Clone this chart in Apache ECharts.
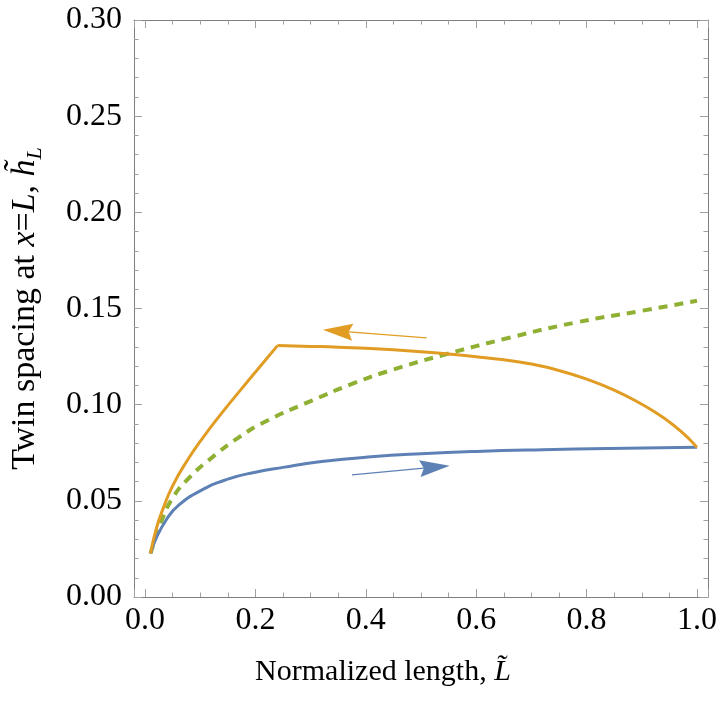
<!DOCTYPE html>
<html>
<head>
<meta charset="utf-8">
<script src="https://cdn.jsdelivr.net/npm/echarts@6/dist/echarts.min.js"></script>
<style>
  html, body { margin: 0; padding: 0; background: #fff; }
  #chart { width: 722px; height: 706px; }
</style>
</head>
<body>
<div id="chart"></div>
<script>
// twin spacing vs normalized length
var blueX = [0.01, 0.02, 0.04, 0.06, 0.1, 0.15, 0.2, 0.25, 0.32, 0.41, 0.5, 0.6, 0.72, 0.84, 1.0];
var blueY = [0.0226, 0.0305, 0.0408, 0.0475, 0.0552, 0.0613, 0.0649, 0.0674, 0.0704, 0.0729, 0.0745, 0.0757, 0.0766, 0.0772, 0.0778];

// orange, going up (loading) to the corner at L=0.24
var orangeUpX = [0.01, 0.02, 0.033, 0.05, 0.075, 0.105, 0.14, 0.177, 0.213, 0.24];
var orangeUpY = [0.0226, 0.0351, 0.0462, 0.0578, 0.0703, 0.0829, 0.0960, 0.1090, 0.1214, 0.1307];
// orange, coming back from the corner to L=1
var orangeDownX = [0.24, 0.3, 0.35, 0.4, 0.45, 0.5, 0.55, 0.6, 0.65, 0.7, 0.75, 0.8, 0.85, 0.9, 0.93, 0.95, 0.97, 0.985, 1.0];
var orangeDownY = [0.1307, 0.1303, 0.1299, 0.1293, 0.1285, 0.1275, 0.1263, 0.1249, 0.1233, 0.1211, 0.1178, 0.1133, 0.1076, 0.1002, 0.0950, 0.0910, 0.0864, 0.0824, 0.0778];

var greenX = [0.01, 0.03, 0.05, 0.08, 0.12, 0.17, 0.22, 0.3, 0.375, 0.45, 0.54, 0.66, 0.78, 0.9, 1.0];
var greenY = [0.0226, 0.0396, 0.0515, 0.0620, 0.0722, 0.0830, 0.0915, 0.1018, 0.1108, 0.1183, 0.1258, 0.1348, 0.1427, 0.1488, 0.1540];

// arrows: [x from, y from, x to, y to]
var orangeArrow = [0.510, 0.1347, 0.322, 0.1389];
var blueArrow = [0.375, 0.0635, 0.552, 0.0682];

var yTicks = ['0.00', '0.05', '0.10', '0.15', '0.20', '0.25', '0.30'];

var BLUE = '#5E81B5', ORANGE = '#E19C24', GREEN = '#8FB032';
var FONT = 'Liberation Serif';

function pairs(xs, ys) {
  return xs.map(function (x, i) { return [x, ys[i]]; });
}

function arrowItem(params, api) {
  var p0 = api.coord([api.value(0), api.value(1)]);
  var p1 = api.coord([api.value(2), api.value(3)]);
  var dx = p1[0] - p0[0], dy = p1[1] - p0[1];
  var len = Math.sqrt(dx * dx + dy * dy);
  var ux = dx / len, uy = dy / len, nx = -uy, ny = ux;
  var headLen = 30, headW = 8.5, notch = 4;
  var bx = p1[0] - ux * headLen, by = p1[1] - uy * headLen;
  var color = api.visual('color');
  return {
    type: 'group',
    children: [
      {
        type: 'line',
        shape: { x1: p0[0], y1: p0[1], x2: bx + ux * notch, y2: by + uy * notch },
        style: { stroke: color, lineWidth: 1.3 }
      },
      {
        type: 'polygon',
        shape: { points: [p1, [bx + nx * headW, by + ny * headW], [bx + ux * notch, by + uy * notch], [bx - nx * headW, by - ny * headW]] },
        style: { fill: color }
      }
    ]
  };
}

var chart = echarts.init(document.getElementById('chart'));

function xAx(pos, labels) {
  return {
    type: 'value',
    position: pos,
    min: -0.02,
    max: 1.02,
    splitNumber: 5,
    axisLine: { show: true, onZero: false, lineStyle: { color: '#7f7f7f', width: 1 } },
    axisTick: { show: true, inside: true, length: 8, lineStyle: { color: '#a0a0a0' } },
    minorTick: { show: true, splitNumber: 4, length: 4.5, lineStyle: { color: '#a0a0a0' } },
    splitLine: { show: false },
    axisLabel: {
      show: labels,
      margin: 8,
      color: '#000',
      fontFamily: FONT,
      fontSize: 32,
      formatter: function (v) {
        return Math.abs(v * 5 - Math.round(v * 5)) < 1e-6 ? v.toFixed(1) : '';
      }
    }
  };
}

function yAx(pos, labels) {
  return {
    type: 'value',
    position: pos,
    min: 0,
    max: 0.3,
    interval: 0.05,
    axisLine: { show: true, onZero: false, lineStyle: { color: '#7f7f7f', width: 1 } },
    axisTick: { show: true, inside: true, length: 8, lineStyle: { color: '#a0a0a0' } },
    minorTick: { show: true, splitNumber: 5, length: 4.5, lineStyle: { color: '#a0a0a0' } },
    splitLine: { show: false },
    axisLabel: {
      show: labels,
      margin: 12,
      color: '#000',
      fontFamily: FONT,
      fontSize: 32,
      formatter: function (v) { return yTicks[Math.round(v / 0.05)]; }
    }
  };
}

var xBottom = xAx('bottom', true);
xBottom.name = '{n|Normalized length, }{i|L\u0303}';
xBottom.nameLocation = 'middle';
xBottom.nameGap = 60;
xBottom.nameTextStyle = {
  padding: [0, 76, 0, 0],
  rich: {
    n: { fontFamily: FONT, fontSize: 30, color: '#000' },
    i: { fontFamily: FONT, fontSize: 30, color: '#000', fontStyle: 'italic' }
  }
};

var yLeft = yAx('left', true);
yLeft.name = '{n|Twin spacing at }{i|x}{n|=}{i|L}{n|, }{i|h\u0303}{s|L}';
yLeft.nameLocation = 'middle';
yLeft.nameRotate = 90;
yLeft.nameGap = 88;
yLeft.nameTextStyle = {
  rich: {
    n: { fontFamily: FONT, fontSize: 34, color: '#000' },
    i: { fontFamily: FONT, fontSize: 34, color: '#000', fontStyle: 'italic' },
    s: { fontFamily: FONT, fontSize: 22, color: '#000', fontStyle: 'italic', padding: [20, 0, 0, 0] }
  }
};

var option = {
  backgroundColor: '#fff',
  animation: false,
  grid: { left: 131, right: 14, top: 20, bottom: 109, containLabel: false },
  xAxis: [xBottom, xAx('top', false)],
  yAxis: [yLeft, yAx('right', false)],
  series: [
    {
      type: 'line',
      data: pairs(greenX, greenY),
      showSymbol: false,
      smooth: 0.5,
      lineStyle: { color: GREEN, width: 4, type: [9, 7] },
      z: 2
    },
    {
      type: 'line',
      data: pairs(blueX, blueY),
      showSymbol: false,
      smooth: 0.5,
      lineStyle: { color: BLUE, width: 3 },
      z: 3
    },
    {
      type: 'line',
      data: pairs(orangeUpX, orangeUpY),
      showSymbol: false,
      smooth: 0.5,
      lineStyle: { color: ORANGE, width: 3 },
      z: 4
    },
    {
      type: 'line',
      data: pairs(orangeDownX, orangeDownY),
      showSymbol: false,
      smooth: 0.5,
      lineStyle: { color: ORANGE, width: 3 },
      z: 4
    },
    {
      type: 'custom',
      renderItem: arrowItem,
      itemStyle: { color: ORANGE },
      data: [orangeArrow],
      z: 5
    },
    {
      type: 'custom',
      renderItem: arrowItem,
      itemStyle: { color: BLUE },
      data: [blueArrow],
      z: 5
    }
  ]
};

chart.setOption(option);
</script>
</body>
</html>
